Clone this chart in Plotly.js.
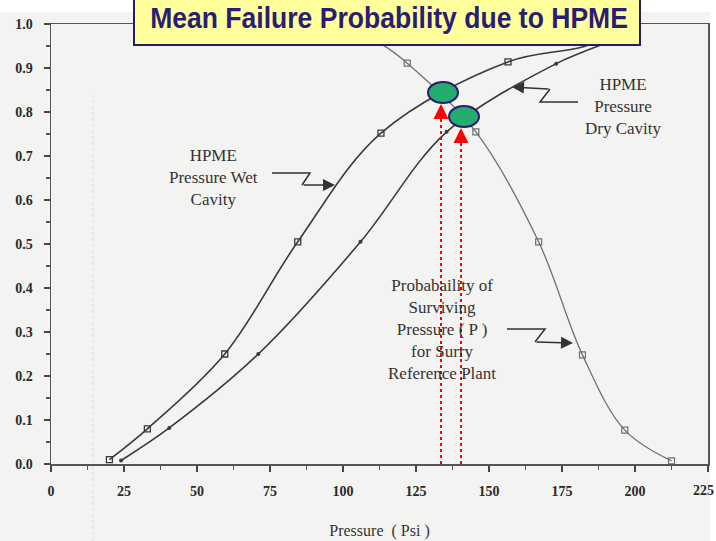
<!DOCTYPE html>
<html>
<head>
<meta charset="utf-8">
<script src="https://cdn.plot.ly/plotly-3.0.1.min.js"></script>
<style>html,body{margin:0;padding:0;background:#fff;}#chart{width:716px;height:541px;}</style>
</head>
<body>
<div id="chart"></div>
<script>
// ---- data ----
const wetPressure = [20, 33, 59.5, 84.5, 113, 156.5];
const wetProb = [0.01, 0.08, 0.25, 0.505, 0.752, 0.914];
const wetTailPressure = [182, 200];
const wetTailProb = [0.948, 0.99];

const dryPressure = [24, 40.5, 71, 106, 135.5, 173];
const dryProb = [0.008, 0.082, 0.25, 0.505, 0.755, 0.91];
const dryTailPressure = [182, 200];
const dryTailProb = [0.936, 0.98];

const survHeadPressure = [98, 113.7];
const survHeadProb = [1.0, 0.952];
const survPressure = [122, 145.5, 167, 182, 196.5, 212.5];
const survProb = [0.911, 0.755, 0.505, 0.248, 0.077, 0.007];

const xTickVals = [0, 25, 50, 75, 100, 125, 150, 175, 200, 225];
const xTickText = ['0', '25', '50', '75', '100', '125', '150', '175', '200', '225'];
const yTickVals = [0, 0.1, 0.2, 0.3, 0.4, 0.5, 0.6, 0.7, 0.8, 0.9, 1.0];
const yTickText = ['0.0','0.1','0.2','0.3','0.4','0.5','0.6','0.7','0.8','0.9','1.0'];

const titleText = 'Mean Failure Probability due to HPME';
const xTitle = 'Pressure  ( Psi )';
const wetLabel = 'HPME<br>Pressure Wet<br>Cavity';
const dryLabel = 'HPME<br>Pressure<br>Dry Cavity';
const survLabel = 'Probabaility of<br>Surviving<br>Pressure ( P )<br>for Surry<br>Reference Plant';

// ---- layout geometry ----
const M = {l: 51, r: 8, t: 24, b: 77};
const W = 716 - M.l - M.r, H = 541 - M.t - M.b;
const px = p => (p - M.l) / W;          // pixel -> paper x
const py = p => (M.t + H - p) / H;      // pixel -> paper y
const path = pts => 'M' + pts.map(p => px(p[0]) + ',' + py(p[1])).join(' L');

const lineDark = '#3a3a3a';
const lineLight = '#707070';
const serif = 'Liberation Serif, Times New Roman, serif';
const tickFont = {family: serif, size: 14, color: '#2a2a2a', weight: 'bold'};

const traces = [
  {x: wetPressure.concat(wetTailPressure), y: wetProb.concat(wetTailProb), mode: 'lines',
   line: {color: lineDark, width: 1.6, shape: 'spline', smoothing: 1}, hoverinfo: 'skip'},
  {x: wetPressure, y: wetProb, mode: 'markers',
   marker: {symbol: 'square-open', size: 6, color: lineDark, line: {width: 1.3}}},
  {x: dryPressure.concat(dryTailPressure), y: dryProb.concat(dryTailProb), mode: 'lines',
   line: {color: lineDark, width: 1.6, shape: 'spline', smoothing: 1}, hoverinfo: 'skip'},
  {x: dryPressure, y: dryProb, mode: 'markers',
   marker: {symbol: 'circle', size: 4, color: lineDark}},
  {x: survHeadPressure.concat(survPressure), y: survHeadProb.concat(survProb), mode: 'lines',
   line: {color: lineLight, width: 1.3, shape: 'spline', smoothing: 1}, hoverinfo: 'skip'},
  {x: survPressure, y: survProb, mode: 'markers',
   marker: {symbol: 'square-open', size: 6, color: lineLight, line: {width: 1.2}}}
];

const shapes = [
  // scanned page background
  {type: 'rect', xref: 'paper', yref: 'paper', x0: px(0), x1: px(710), y0: py(545), y1: py(12),
   fillcolor: '#f3f3f1', line: {width: 0}, layer: 'below'},
  // faint scan artifact
  {type: 'line', xref: 'paper', yref: 'paper', x0: px(93), x1: px(93), y0: py(541), y1: py(95),
   line: {color: '#d9d9d9', width: 1, dash: 'dot'}, layer: 'below'},
  // zigzag leader lines
  {type: 'path', xref: 'paper', yref: 'paper', path: path([[272,173],[310,173],[302,185]]),
   line: {color: '#333', width: 1.5}},
  {type: 'path', xref: 'paper', yref: 'paper', path: path([[578,102],[540,102],[550,89]]),
   line: {color: '#333', width: 1.5}},
  {type: 'path', xref: 'paper', yref: 'paper', path: path([[507,329],[545,329],[535,342]]),
   line: {color: '#333', width: 1.5}},
  // red dotted guide lines
  {type: 'line', xref: 'paper', yref: 'paper', x0: px(441), x1: px(441), y0: py(464), y1: py(118),
   line: {color: '#ff0000', width: 2, dash: 'dot'}},
  {type: 'line', xref: 'paper', yref: 'paper', x0: px(461), x1: px(461), y0: py(464), y1: py(142),
   line: {color: '#ff0000', width: 2, dash: 'dot'}},
  // green ellipses
  {type: 'circle', xref: 'paper', yref: 'paper', x0: px(428), x1: px(458), y0: py(103), y1: py(82),
   fillcolor: '#22ad6e', line: {color: '#2a1a6e', width: 2}},
  {type: 'circle', xref: 'paper', yref: 'paper', x0: px(449), x1: px(479), y0: py(127), y1: py(106),
   fillcolor: '#22ad6e', line: {color: '#2a1a6e', width: 2}},
  // title box
  {type: 'rect', xref: 'paper', yref: 'paper', x0: px(134), x1: px(640), y0: py(45), y1: py(-4),
   fillcolor: '#ffff9c', line: {color: '#2a1a6e', width: 2}}
];

const arrow = (tx, ty, ax, ay, color, w, size) => ({
  xref: 'paper', yref: 'paper', x: px(tx), y: py(ty), ax: ax, ay: ay, text: '',
  showarrow: true, arrowhead: 2, arrowsize: size, arrowwidth: w, arrowcolor: color, standoff: 0
});

const lastX = xTickText.length - 1;
const annotations = [
  {xref: 'paper', yref: 'paper', x: px(389), y: py(17), text: '<b>' + titleText + '</b>', showarrow: false,
   xanchor: 'center', yanchor: 'middle', font: {family: 'Liberation Sans, Arial, sans-serif', size: 30, color: '#2b1d73'}},
  {xref: 'paper', yref: 'paper', x: px(213), y: py(177), text: wetLabel, showarrow: false,
   xanchor: 'center', yanchor: 'middle', font: {family: serif, size: 17, color: '#333'}},
  {xref: 'paper', yref: 'paper', x: px(623), y: py(106), text: dryLabel, showarrow: false,
   xanchor: 'center', yanchor: 'middle', font: {family: serif, size: 17, color: '#333'}},
  {xref: 'paper', yref: 'paper', x: px(442), y: py(329), text: survLabel, showarrow: false,
   xanchor: 'center', yanchor: 'middle', font: {family: serif, size: 17, color: '#333'}},
  // last x tick label sits at the page edge: keep it fully inside
  {xref: 'paper', yref: 'paper', x: px(716), y: py(491), text: xTickText[lastX], showarrow: false,
   xanchor: 'right', yanchor: 'middle', xshift: -1, borderpad: 0, font: tickFont},
  arrow(335, 185, -33, 0, '#333', 1.5, 1.6),
  arrow(512, 87, 38, 2, '#333', 1.5, 1.6),
  arrow(573, 343, -38, -1, '#333', 1.5, 1.6),
  arrow(441, 104, 0, 16, '#ff0000', 2.5, 1.2),
  arrow(461, 128, 0, 16, '#ff0000', 2.5, 1.2)
];

const layout = {
  width: 716, height: 541,
  margin: M,
  paper_bgcolor: '#ffffff',
  plot_bgcolor: 'rgba(0,0,0,0)',
  showlegend: false,
  xaxis: {
    range: [0, 225.001], tickvals: xTickVals,
    ticktext: xTickText.slice(0, lastX).concat(['']),
    ticks: 'outside', ticklen: 6, tickwidth: 1.3, tickcolor: '#444',
    showgrid: false, zeroline: false, showline: true, linecolor: '#555', linewidth: 1.5, mirror: true,
    ticklabelstandoff: 8,
    minor: {dtick: 12.5, ticks: 'outside', ticklen: 4, tickcolor: '#555', showgrid: false},
    tickfont: tickFont,
    title: {text: xTitle, font: {family: serif, size: 16, color: '#333'}, standoff: 26}
  },
  yaxis: {
    range: [0, 1.0001], tickvals: yTickVals, ticktext: yTickText, ticks: 'outside', ticklen: 6, tickwidth: 1.3, tickcolor: '#444',
    showgrid: false, zeroline: false, showline: true, linecolor: '#555', linewidth: 1.5, mirror: true,
    ticklabelstandoff: 8, ticklabeloverflow: 'allow',
    minor: {dtick: 0.05, ticks: 'outside', ticklen: 4, tickcolor: '#555', showgrid: false},
    tickfont: tickFont
  },
  shapes: shapes,
  annotations: annotations
};

Plotly.newPlot('chart', traces, layout, {displayModeBar: false, staticPlot: true}).then(function () {
  // the reference title uses a condensed bold face: narrow the real text to its width
  const t = document.querySelector('g.annotation[data-index="0"] text.annotation-text');
  if (t) {
    const bb = t.getBBox();
    const cx = bb.x + bb.width / 2;
    const s = 478 / bb.width;
    if (s < 1) t.setAttribute('transform', 'translate(' + cx + ',0) scale(' + s + ',1) translate(' + (-cx) + ',0)');
  }
});
</script>
</body>
</html>
